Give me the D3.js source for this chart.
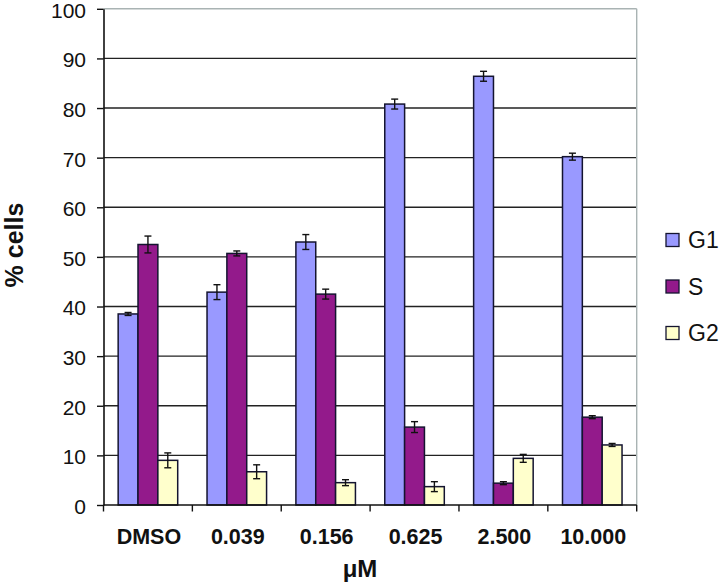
<!DOCTYPE html>
<html><head>
<meta charset="utf-8">
<script src="https://d3js.org/d3.v7.min.js"></script>
<style>
  body { margin: 0; background: #fff; }
  text { font-family: "Liberation Sans", Arial, sans-serif; fill: #111; }
  .tick text { font-size: 21px; }
  .xlab text { font-size: 21.5px; font-weight: bold; }
</style>
</head>
<body>
<svg id="chart" width="723" height="585"></svg>
<script>
// data
const doses = ["DMSO", "0.039", "0.156", "0.625", "2.500", "10.000"];
const phases = ["G1", "S", "G2"];
const g1 = [38.5, 42.9, 53.0, 80.8, 86.4, 70.2];
const s = [52.5, 50.7, 42.5, 15.7, 4.4, 17.7];
const g2 = [9.0, 6.7, 4.5, 3.7, 9.4, 12.1];
const g1Err = [0.3, 1.5, 1.5, 1.0, 1.0, 0.7];
const sErr = [1.7, 0.5, 1.0, 1.1, 0.3, 0.3];
const g2Err = [1.5, 1.4, 0.6, 1.0, 0.8, 0.3];
const yTicks = [0, 10, 20, 30, 40, 50, 60, 70, 80, 90, 100];
const colors = ["#9999ff", "#931a8b", "#ffffcc"];

const svg = d3.select("#chart");
const plotL = 103.5, plotR = 636.7, plotT = 8.8, plotB = 505;

const x = d3.scaleBand().domain(doses).range([plotL, plotR]).paddingInner(0).paddingOuter(0);
const xSub = d3.scaleBand().domain(phases).range([x.bandwidth()*0.165, x.bandwidth()*0.835]);
const y = d3.scaleLinear().domain([0, 100]).range([plotB, plotT]);

const values = [g1, s, g2];
const errs = [g1Err, sErr, g2Err];
const rows = [];
doses.forEach((d, i) => {
  phases.forEach((p, j) => {
    rows.push({dose: d, phase: p, v: values[j][i], e: errs[j][i], c: colors[j]});
  });
});

// gridlines
svg.append("g").selectAll("line").data(yTicks.filter(t => t > 0))
  .join("line")
  .attr("x1", plotL).attr("x2", plotR)
  .attr("y1", d => y(d)).attr("y2", d => y(d))
  .attr("stroke", d => d === 100 ? "#a9b3b3" : "#222")
  .attr("stroke-width", 1.4);
// right border
svg.append("line").attr("x1", plotR).attr("x2", plotR).attr("y1", plotT).attr("y2", plotB)
  .attr("stroke", "#a9b3b3").attr("stroke-width", 1.4);

// bars
svg.append("g").selectAll("rect").data(rows)
  .join("rect")
  .attr("x", d => x(d.dose) + xSub(d.phase))
  .attr("width", xSub.bandwidth())
  .attr("y", d => y(d.v))
  .attr("height", d => y(0) - y(d.v))
  .attr("fill", d => d.c)
  .attr("stroke", "#141430")
  .attr("stroke-width", 1.5);

// error bars
const eb = svg.append("g").attr("stroke", "#111").attr("stroke-width", 1.4);
rows.forEach(d => {
  const cx = x(d.dose) + xSub(d.phase) + xSub.bandwidth()/2;
  eb.append("line").attr("x1", cx).attr("x2", cx).attr("y1", y(d.v + d.e)).attr("y2", y(d.v - d.e));
  eb.append("line").attr("x1", cx-3.5).attr("x2", cx+3.5).attr("y1", y(d.v + d.e)).attr("y2", y(d.v + d.e));
  eb.append("line").attr("x1", cx-3.5).attr("x2", cx+3.5).attr("y1", y(d.v - d.e)).attr("y2", y(d.v - d.e));
});

// y axis
const yAxis = svg.append("g").attr("transform", `translate(${plotL},0)`)
  .call(d3.axisLeft(y).tickValues(yTicks).tickSize(6.5).tickPadding(11).tickSizeOuter(0));
yAxis.select(".domain").attr("stroke", "#111").attr("stroke-width", 1.6);
yAxis.selectAll(".tick line").attr("stroke", "#111").attr("stroke-width", 1.4);
yAxis.selectAll(".tick text").attr("fill", "#111").attr("font-family", null).attr("font-size", null).attr("dy", "0.4em");

// x axis line + group ticks
svg.append("line").attr("x1", plotL).attr("x2", plotR).attr("y1", plotB).attr("y2", plotB)
  .attr("stroke", "#111").attr("stroke-width", 1.6);
const bounds = doses.map(d => x(d)).concat([plotR]);
svg.append("g").selectAll("line").data(bounds).join("line")
  .attr("x1", d => d).attr("x2", d => d).attr("y1", plotB).attr("y2", plotB + 6.5)
  .attr("stroke", "#111").attr("stroke-width", 1.4);
svg.append("g").attr("class", "xlab").selectAll("text").data(doses).join("text")
  .attr("x", d => x(d) + x.bandwidth()/2 + 1)
  .attr("y", 544)
  .attr("text-anchor", "middle")
  .text(d => d);

// axis titles
svg.append("text").attr("x", 360).attr("y", 577).attr("text-anchor", "middle")
  .attr("font-size", 24).attr("font-weight", "bold").text("μM");
svg.append("text").attr("transform", "translate(23,245) rotate(-90)")
  .attr("text-anchor", "middle").attr("font-size", 25).attr("font-weight", "bold").text("% cells");

// legend
const legY = d3.scalePoint().domain(phases).range([240, 333]);
const leg = svg.append("g").selectAll("g").data(phases).join("g")
  .attr("transform", d => `translate(666,${legY(d)})`);
leg.append("rect").attr("x", 0).attr("y", -6.5).attr("width", 13).attr("height", 13)
  .attr("fill", (d, i) => colors[i]).attr("stroke", "#141430").attr("stroke-width", 1.3);
leg.append("text").attr("x", 22).attr("y", 0).attr("dy", "0.36em")
  .attr("font-size", 23).text(d => d);
</script>
</body>
</html>
